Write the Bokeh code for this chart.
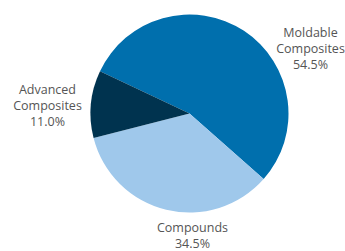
import math
from bokeh.plotting import figure
from bokeh.models import Range1d, ColumnDataSource
from bokeh.core.properties import value
from bokeh.embed import file_html
from bokeh.resources import INLINE

categories = ["Moldable Composites", "Compounds", "Advanced Composites"]
shares = [54.5, 34.5, 11.0]
colors = ["#006FAD", "#9FC8EB", "#00334F"]

W, H = 345, 251
p = figure(width=W, height=H, output_backend="svg", toolbar_location=None,
           x_range=Range1d(0, W), y_range=Range1d(0, H),
           min_border=0, outline_line_color=None)
p.axis.visible = False
p.grid.visible = False
p.background_fill_color = None
p.border_fill_color = None

cx, cy, r = 189, H - 113, 99
a0 = math.radians(154.7)
total = sum(shares)
starts, ends = [], []
cum = 0.0
for s in shares:
    st = a0 - cum / total * 2 * math.pi
    cum += s
    en = a0 - cum / total * 2 * math.pi
    starts.append(st)
    ends.append(en)

src = ColumnDataSource(dict(start=starts, end=ends, color=colors,
                            x=[cx] * 3, y=[cy] * 3))
p.wedge(x="x", y="y", radius=r, radius_units="screen", start_angle="start",
        end_angle="end", direction="clock", fill_color="color",
        line_color=None, source=src)

labels = [c.replace(" ", "\n") + "\n" + f"{v:.1f}%" for c, v in zip(categories, shares)]
lx = [310, 192, 47]
ly = [H - 48, H - 235, H - 105]
p.text(x=lx, y=ly, text=labels, text_align="center", text_baseline="middle",
       text_font=value("Open Sans"), text_font_size="12.5px",
       text_line_height=0.95, text_color="#555555")

open("out.html", "w").write(file_html(p, INLINE))
